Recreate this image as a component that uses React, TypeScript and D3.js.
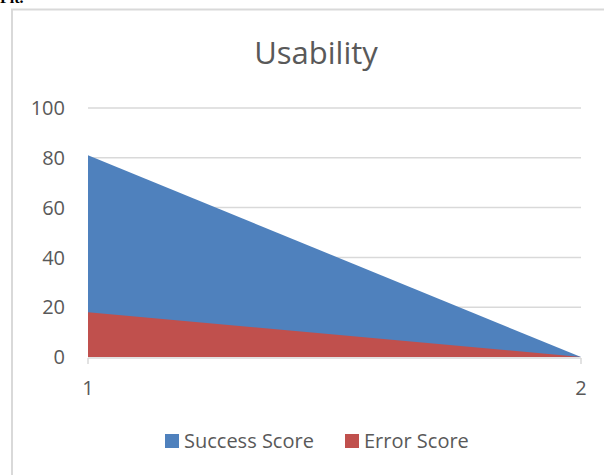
import { useRef, useEffect } from 'react';
import * as d3 from 'd3';

const categories = ['1', '2'];
const successScore = [81, 0];
const errorScore = [18, 0];
const yTicks = [0, 20, 40, 60, 80, 100];
const seriesNames = ['Success Score', 'Error Score'];
const seriesColors = ['#4f81bd', '#c0504d'];

const App = () => {
    const svgRef = useRef<SVGSVGElement | null>(null);

    useEffect(() => {
        const svgElement = svgRef.current;
        if (!svgElement) return;

        const font = "'Open Sans', 'Noto Sans', sans-serif";
        const textColor = '#595959';
        const gridColor = '#d9d9d9';

        const svg = d3.select(svgElement);
        svg.selectAll('*').remove();

        // caption text cut off above the chart
        svg.append('text')
            .attr('x', 0)
            .attr('y', 3)
            .text('Fit.')
            .style('font-family', "'Liberation Serif', serif")
            .style('font-weight', 'bold')
            .style('font-size', '16px')
            .style('fill', '#000');

        // chart frame
        svg.append('rect')
            .attr('x', 12)
            .attr('y', 9.5)
            .attr('width', 640)
            .attr('height', 520)
            .attr('fill', '#fff')
            .attr('stroke', gridColor)
            .attr('stroke-width', 2);

        const x = d3.scalePoint<string>()
            .domain(categories)
            .range([88, 581]);

        const y = d3.scaleLinear()
            .domain([0, 100])
            .range([357, 108]);

        // gridlines
        svg.append('g')
            .selectAll('line')
            .data(yTicks.filter(d => d > 0))
            .join('line')
            .attr('x1', x('1')!)
            .attr('x2', x('2')!)
            .attr('y1', d => y(d))
            .attr('y2', d => y(d))
            .attr('stroke', gridColor)
            .attr('stroke-width', 1.5);

        // y labels
        svg.append('g')
            .selectAll('text')
            .data(yTicks)
            .join('text')
            .attr('x', 65)
            .attr('y', d => y(d))
            .attr('dy', '0.36em')
            .attr('text-anchor', 'end')
            .text(d => d)
            .style('font-family', font)
            .style('font-size', '20px')
            .style('fill', textColor);

        const area = d3.area<number>()
            .x((_, i) => x(categories[i])!)
            .y0(y(0))
            .y1(d => y(d));

        // overlapping areas: success behind, error in front
        [successScore, errorScore].forEach((values, i) => {
            svg.append('path')
                .datum(values)
                .attr('fill', seriesColors[i])
                .attr('d', area);
        });

        // x axis
        const xAxis = svg.append('g');
        xAxis.append('line')
            .attr('x1', x('1')!)
            .attr('x2', x('2')!)
            .attr('y1', y(0) + 1)
            .attr('y2', y(0) + 1)
            .attr('stroke', gridColor)
            .attr('stroke-width', 1.5);
        xAxis.selectAll('line.tick')
            .data(categories)
            .join('line')
            .attr('class', 'tick')
            .attr('x1', d => x(d)!)
            .attr('x2', d => x(d)!)
            .attr('y1', y(0) + 1)
            .attr('y2', y(0) + 7)
            .attr('stroke', gridColor)
            .attr('stroke-width', 1.5);
        xAxis.selectAll('text')
            .data(categories)
            .join('text')
            .attr('x', d => x(d)!)
            .attr('y', 395)
            .attr('text-anchor', 'middle')
            .text(d => d)
            .style('font-family', font)
            .style('font-size', '20px')
            .style('fill', textColor);

        // title
        svg.append('text')
            .attr('x', 316)
            .attr('y', 64)
            .attr('text-anchor', 'middle')
            .text('Usability')
            .style('font-family', font)
            .style('font-size', '31px')
            .style('fill', textColor);

        // legend
        const legendX = [165, 345];
        const legend = svg.append('g');
        seriesNames.forEach((name, i) => {
            legend.append('rect')
                .attr('x', legendX[i])
                .attr('y', 434)
                .attr('width', 14)
                .attr('height', 14)
                .attr('fill', seriesColors[i]);
            legend.append('text')
                .attr('x', legendX[i] + 19)
                .attr('y', 448)
                .text(name)
                .style('font-family', font)
                .style('font-size', '20px')
                .style('fill', textColor);
        });
    }, []);

    return (
        <svg
            ref={svgRef}
            width={604}
            height={475}
            style={{ position: 'absolute', left: 0, top: 0, background: '#fff' }}
        ></svg>
    );
};

export default App;
